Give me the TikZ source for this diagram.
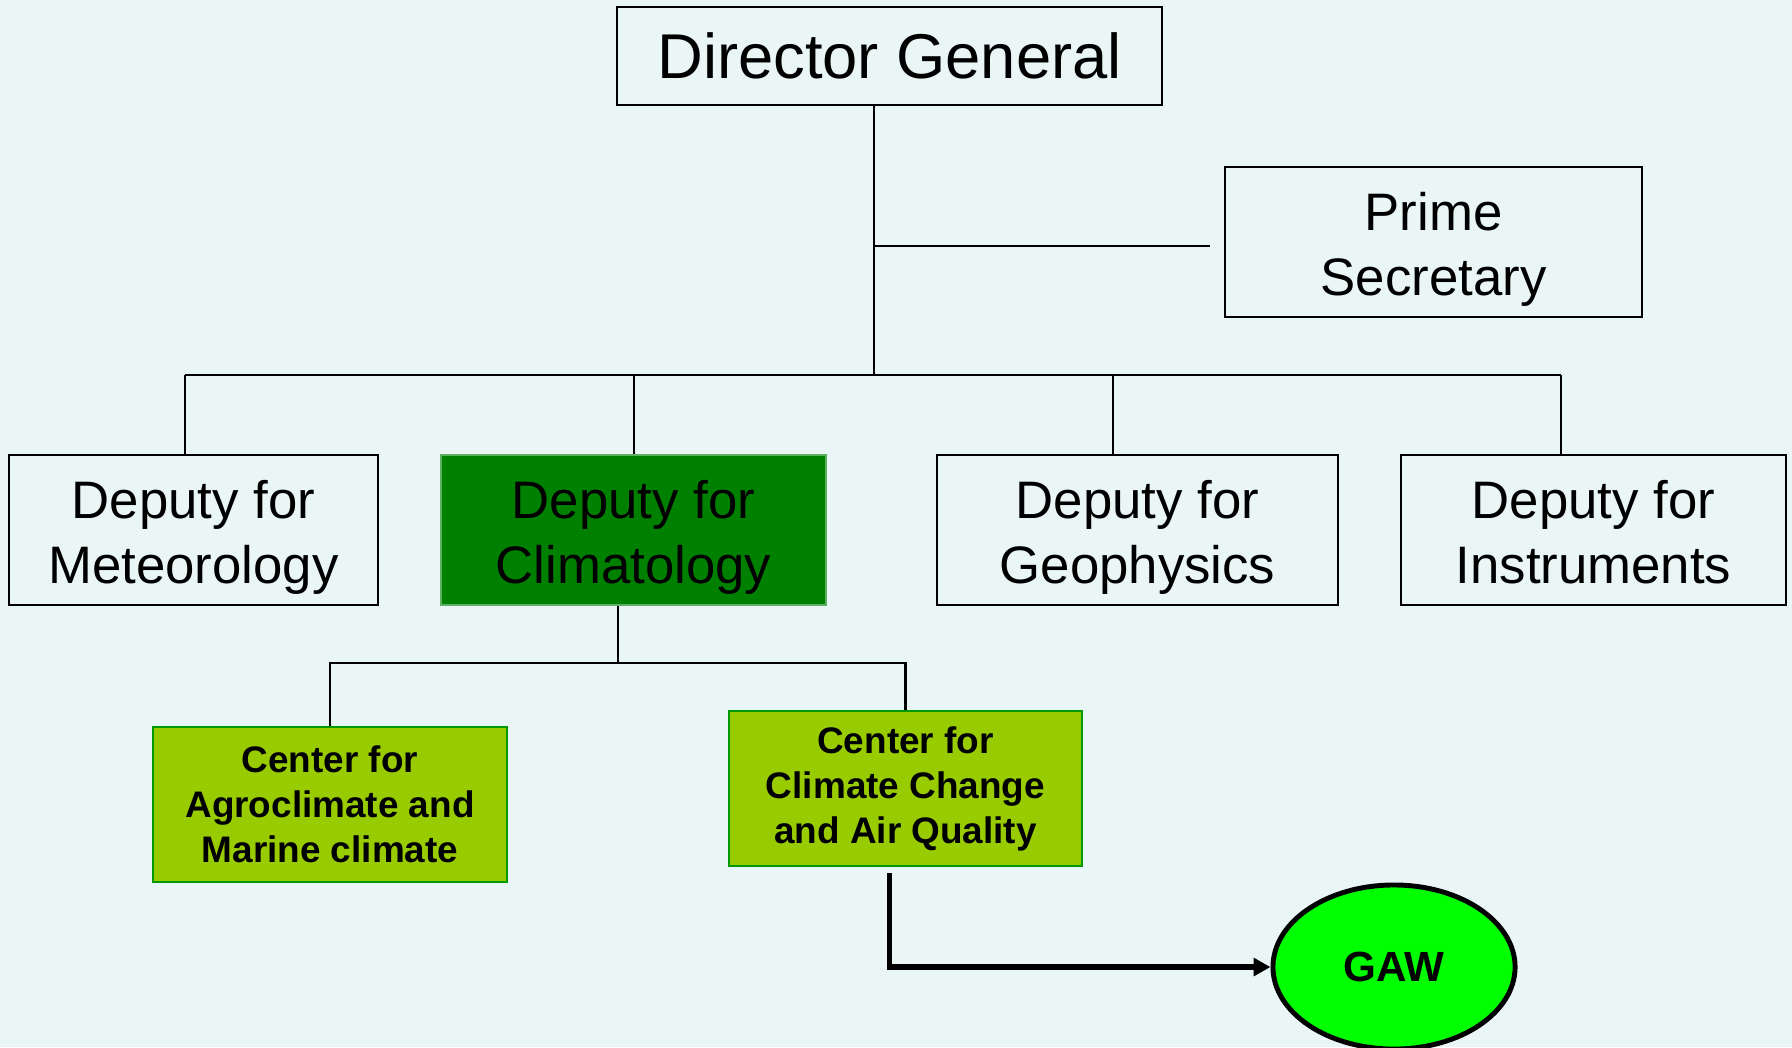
\documentclass[tikz,border=0pt]{standalone}
\usepackage{fontspec}
\setmainfont{Liberation Sans}
\usetikzlibrary{arrows.meta,positioning,calc,shapes.geometric}
\definecolor{ogBack}{HTML}{EAF6F6}
\definecolor{ogDark}{HTML}{008000}
\definecolor{ogLime}{HTML}{99CC00}
\definecolor{ogEdge}{HTML}{009900}
\definecolor{ogGaw}{HTML}{00FF00}
\tikzset{
  box/.style       ={draw=black,line width=0.6pt,align=center,inner sep=0pt},
  headbox/.style   ={box,minimum width=5.45cm,minimum height=0.98cm,
                     font=\fontsize{18}{21}\selectfont},
  deptbox/.style   ={box,minimum height=1.5cm,font=\fontsize{15}{18.5}\selectfont,
                     text height=33.5pt,text depth=3.3pt},
  hotbox/.style    ={deptbox,fill=ogDark,draw=ogDark!60!ogBack},
  centerbox/.style ={box,draw=ogEdge,fill=ogLime,minimum width=3.53cm,minimum height=1.55cm,
                     font=\fontsize{10.5}{12.8}\selectfont\bfseries},
  gawnode/.style   ={ellipse,draw=black,line width=1.4pt,fill=ogGaw,inner sep=0pt,
                     minimum width=2.42cm,minimum height=1.64cm,
                     font=\fontsize{12}{14}\selectfont\bfseries},
  link/.style      ={black,line width=0.6pt},
  flow/.style      ={-{Triangle[length=4.8pt,width=5pt]},black,line width=1.6pt},
}
\begin{document}
\begin{tikzpicture}[x=0.01cm,y=-0.01cm]
\fill[ogBack] (0,0) rectangle (1792,1047);
\useasboundingbox (0,0) rectangle (1792,1047);
% top level
\node[headbox] (DG) at (889.5,56) {Director General};
\node[deptbox,minimum width=4.17cm] (PS) at (1433.5,242) {Prime\\Secretary};
% deputies
\node[deptbox,minimum width=3.69cm] (Met)   at (193.5,530)  {Deputy for\\Meteorology};
\node[hotbox,minimum width=3.85cm]  (Clim)  at (633.5,530)  {Deputy for\\Climatology};
\node[deptbox,minimum width=4.01cm] (Geo)   at (1137.5,530) {Deputy for\\Geophysics};
\node[deptbox,minimum width=3.85cm] (Instr) at (1593.5,530) {Deputy for\\Instruments};
% centres
\node[centerbox] (Agro) at (330,804.5)   {Center for\\Agroclimate and\\Marine climate};
\node[centerbox] (CC)   at (905.5,788.5) {Center for\\Climate Change\\and Air Quality};
\node[gawnode]   (GAW)  at (1394,967)    {GAW};

\coordinate (hub) at (874,375);
\coordinate (psend) at ($(PS.west)+(-14,4)$);
\draw[link] (DG.south -| hub) -- (hub);
\draw[link] (hub |- psend) -- (psend);
\foreach \n/\x in {Met/185,Clim/634,Geo/1113,Instr/1561}
  { \coordinate (j\n) at (\x,375);
    \draw[link] (j\n) -- (j\n |- \n.north); }
\draw[link] (jMet) -- (jInstr);

\coordinate (sub) at (618,663);
\draw[link] (Clim.south -| sub) -- (sub);
\draw[link] (Agro.north) -- (Agro.north |- sub) -- (CC.north |- sub) -- (CC.north);
\draw[flow] ($(CC.south)+(-16,6)$) |- (GAW.west);
\end{tikzpicture}
\end{document}
